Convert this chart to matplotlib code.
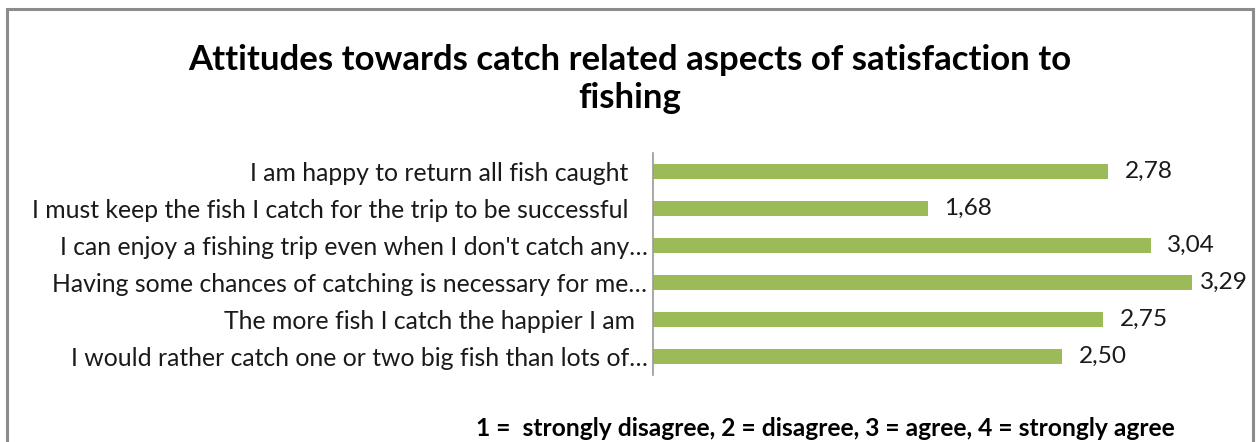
import matplotlib.pyplot as plt
from matplotlib.patches import Rectangle

statements = [
    "I am happy to return all fish caught   ",
    "I must keep the fish I catch for the trip to be successful   ",
    "I can enjoy a fishing trip even when I don't catch any\u2026",
    "Having some chances of catching is necessary for me\u2026",
    "The more fish I catch the happier I am  ",
    "I would rather catch one or two big fish than lots of\u2026",
]
mean_scores = [2.78, 1.68, 3.04, 3.29, 2.75, 2.50]

title = "Attitudes towards catch related aspects of satisfaction to\nfishing"
scale_note = "1 =  strongly disagree, 2 = disagree, 3 = agree, 4 = strongly agree"

plt.rcParams['font.family'] = ['Lato', 'DejaVu Sans']

fig = plt.figure(figsize=(12.57, 4.42), dpi=100)
W, H = 1257, 442

# outer chart frame (bottom edge runs off the canvas)
fig.patches.append(Rectangle((7 / W, -0.1), (1253 - 7) / W, 1.1 - 9 / H,
                             transform=fig.transFigure, fill=False,
                             edgecolor='#8c8c8c', linewidth=2.2))

left, right = 653, 1226
top, bottom = 153, 375
ax = fig.add_axes([left / W, 1 - bottom / H, (right - left) / W, (bottom - top) / H])

ypos = list(range(len(statements)))
ax.barh(ypos, mean_scores, height=0.38, color='#9bbb59')
ax.set_xlim(0, 3.5)
ax.set_ylim(len(statements) - 0.5, -0.5)

# value labels sit just past the bar end, but are kept inside the frame
for y, v in zip(ypos, mean_scores):
    ax.text(min(v + 0.1, 3.34), y, f"{v:.2f}".replace('.', ','), va='center',
            ha='left', fontsize=17.6, color='#1a1a1a')

ax.set_yticks(ypos)
ax.set_yticklabels(statements, fontsize=17.8, color='#1a1a1a')
ax.tick_params(axis='y', length=0, pad=4)
ax.set_xticks([])
for side in ['top', 'right', 'bottom']:
    ax.spines[side].set_visible(False)
ax.spines['left'].set_color('#9a9a9a')
ax.spines['left'].set_linewidth(1.2)

fig.text(630 / W, 1 - 79 / H, title, ha='center', va='center', fontsize=25,
         fontweight='bold', linespacing=1.25)
fig.text(825 / W, 1 - 428 / H, scale_note, ha='center', va='center',
         fontsize=17.7, fontweight='bold')

fig.savefig('out.png', dpi=100)
